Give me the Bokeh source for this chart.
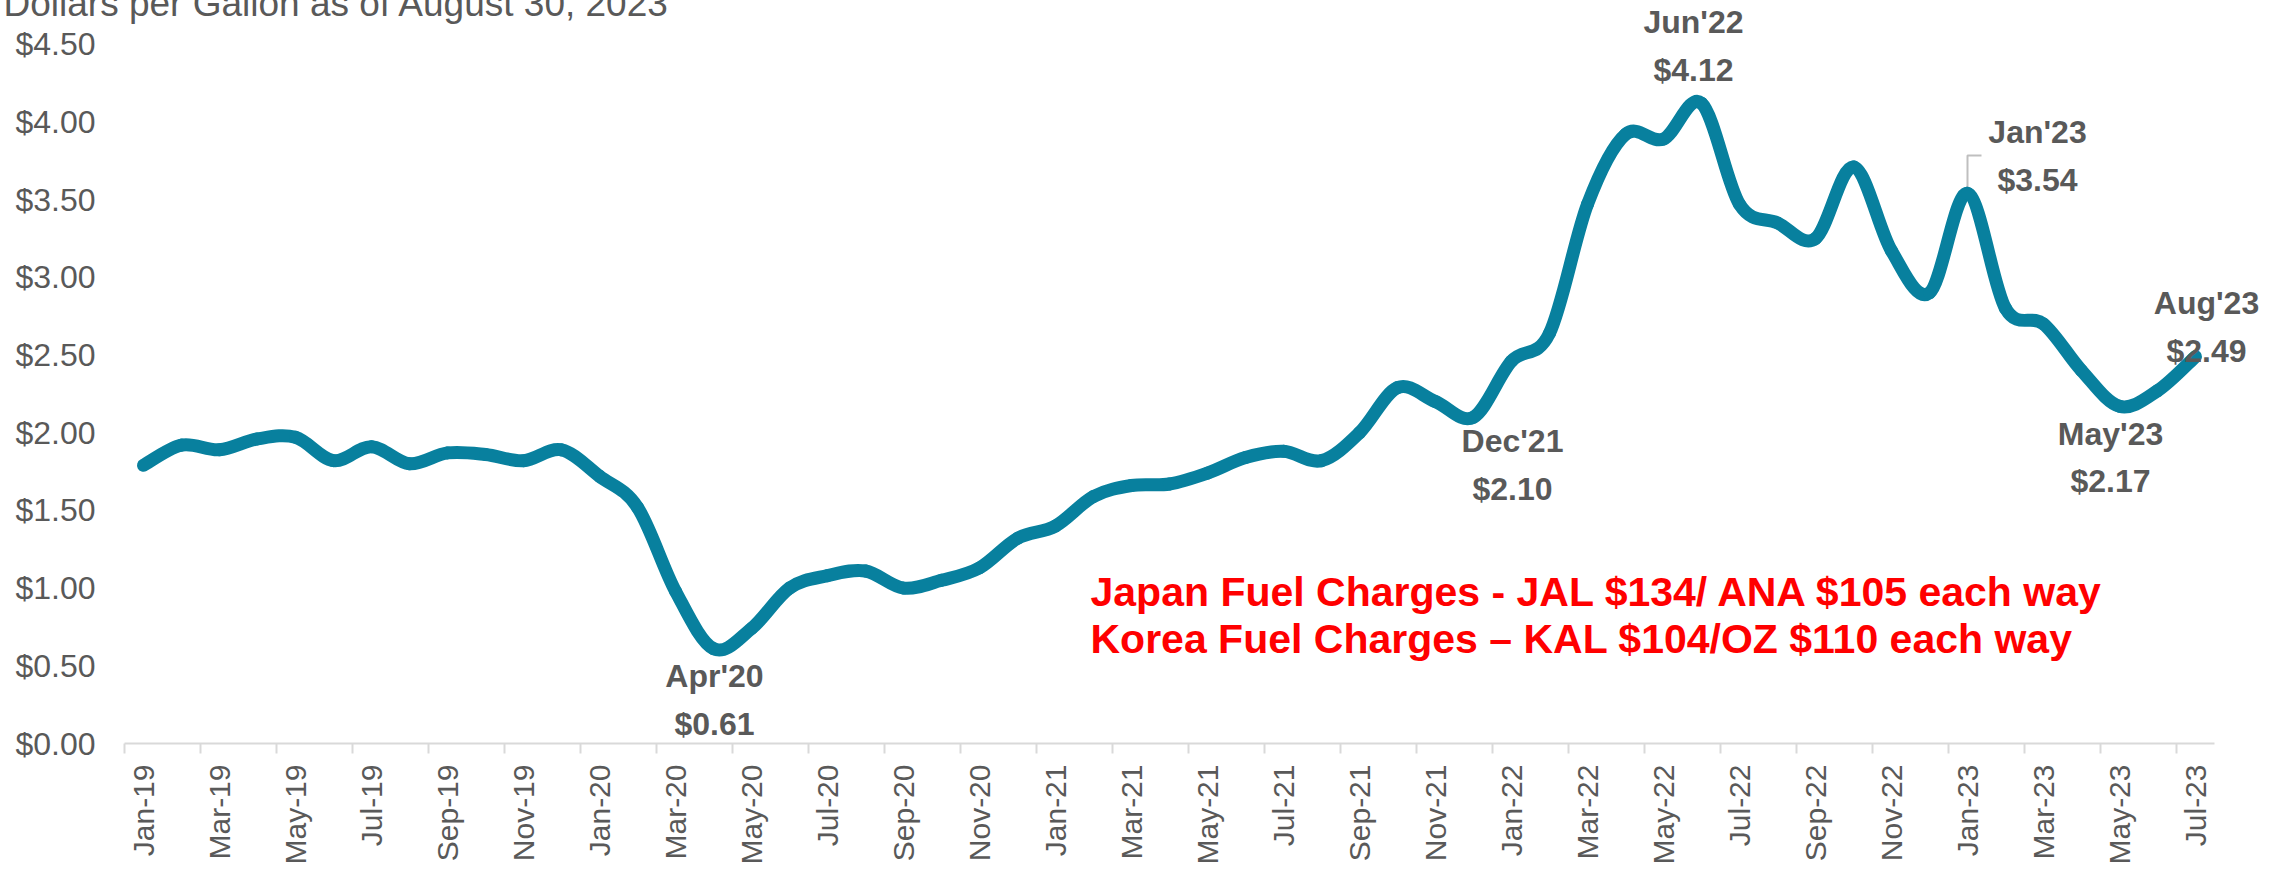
import math
from bokeh.plotting import figure
from bokeh.models import Range1d, FixedTicker, NumeralTickFormatter, Label, Title
from bokeh.embed import file_html
from bokeh.resources import INLINE

# ---------------- data ----------------
months = [
    "Jan-19", "Feb-19", "Mar-19", "Apr-19", "May-19", "Jun-19", "Jul-19", "Aug-19", "Sep-19", "Oct-19", "Nov-19", "Dec-19",
    "Jan-20", "Feb-20", "Mar-20", "Apr-20", "May-20", "Jun-20", "Jul-20", "Aug-20", "Sep-20", "Oct-20", "Nov-20", "Dec-20",
    "Jan-21", "Feb-21", "Mar-21", "Apr-21", "May-21", "Jun-21", "Jul-21", "Aug-21", "Sep-21", "Oct-21", "Nov-21", "Dec-21",
    "Jan-22", "Feb-22", "Mar-22", "Apr-22", "May-22", "Jun-22", "Jul-22", "Aug-22", "Sep-22", "Oct-22", "Nov-22", "Dec-22",
    "Jan-23", "Feb-23", "Mar-23", "Apr-23", "May-23", "Jun-23", "Jul-23",
]
prices = [
    1.79, 1.92, 1.89, 1.96, 1.97, 1.82, 1.91, 1.80, 1.87, 1.86, 1.82, 1.89,
    1.72, 1.52, 0.98, 0.61, 0.74, 1.00, 1.08, 1.11, 1.00, 1.05, 1.13, 1.32,
    1.40, 1.59, 1.66, 1.67, 1.74, 1.84, 1.88, 1.82, 2.00, 2.29, 2.20, 2.10,
    2.46, 2.64, 3.47, 3.92, 3.89, 4.12, 3.47, 3.35, 3.25, 3.71, 3.17, 2.90,
    3.54, 2.80, 2.70, 2.40, 2.17, 2.27, 2.49,
]
tick_labels = ["Jan-19", "Mar-19", "May-19", "Jul-19", "Sep-19", "Nov-19",
               "Jan-20", "Mar-20", "May-20", "Jul-20", "Sep-20", "Nov-20",
               "Jan-21", "Mar-21", "May-21", "Jul-21", "Sep-21", "Nov-21",
               "Jan-22", "Mar-22", "May-22", "Jul-22", "Sep-22", "Nov-22",
               "Jan-23", "Mar-23", "May-23", "Jul-23"]
y_ticks = [0.0, 0.5, 1.0, 1.5, 2.0, 2.5, 3.0, 3.5, 4.0, 4.5]
ann_index = [15, 35, 41, 48, 52, 54]
ann_name = ["Apr'20", "Dec'21", "Jun'22", "Jan'23", "May'23", "Aug'23"]
title_text = "Dollars per Gallon as of August 30, 2023"
note_lines = ["Japan Fuel Charges - JAL $134/ ANA $105 each way",
              "Korea Fuel Charges \u2013 KAL $104/OZ $110 each way"]

# ---------------- layout / style ----------------
W = 2269
FRAME_LEFT, FRAME_TOP, AXIS_Y = 124, 4, 743
n = len(prices)
PXX = 38.0     # px per month
PXY = 155.4    # px per dollar
FW = W - FRAME_LEFT
FH = AXIS_Y - FRAME_TOP
X0 = -0.5
X_AXIS_END = n - 0.5
X1 = X0 + FW / PXX
Y0 = 0.0
Y1 = FH / PXY

GRAY = "#595959"
TEAL = "#08809E"
AXIS = "#D9D9D9"
FONT = "Liberation Sans"

p = figure(frame_width=FW, frame_height=FH, x_range=Range1d(X0, X1), y_range=Range1d(Y0, Y1),
           output_backend="svg", toolbar_location=None, title=None,
           min_border_left=FRAME_LEFT, min_border_right=0,
           min_border_top=FRAME_TOP, min_border_bottom=0)
p.xgrid.visible = False
p.ygrid.visible = False
p.outline_line_color = None
p.background_fill_color = "white"
p.border_fill_color = "white"

# x axis: month labels every 2 months, tick marks between categories
label_x = [months.index(t) for t in tick_labels]
xa = p.xaxis[0]
xa.bounds = (X0, X_AXIS_END)
xa.ticker = FixedTicker(ticks=label_x, minor_ticks=[X0 + 2 * k for k in range((n + 1) // 2)])
xa.major_label_overrides = {i: t for i, t in zip(label_x, tick_labels)}
xa.major_label_orientation = math.pi / 2
xa.axis_line_color = AXIS
xa.axis_line_width = 2
xa.major_tick_line_color = None
xa.major_tick_in = 0
xa.major_tick_out = 0
xa.minor_tick_line_color = AXIS
xa.minor_tick_line_width = 2
xa.minor_tick_in = 0
xa.minor_tick_out = 10
xa.major_label_standoff = 11
xa.major_label_text_font = FONT
xa.major_label_text_font_size = "30px"
xa.major_label_text_color = GRAY

ya = p.yaxis[0]
ya.ticker = FixedTicker(ticks=y_ticks)
ya.formatter = NumeralTickFormatter(format="$0.00")
ya.axis_line_color = None
ya.major_tick_line_color = None
ya.minor_tick_line_color = None
ya.major_tick_in = 0
ya.major_tick_out = 0
ya.major_label_standoff = 29
ya.major_label_text_font = FONT
ya.major_label_text_font_size = "32px"
ya.major_label_text_color = GRAY

# title, partly cut at the top edge as in the original
p.add_layout(Title(text=title_text, align="left", vertical_align="top",
                   offset=-121, standoff=-43, text_font=FONT, text_font_size="37px",
                   text_font_style="normal", text_color=GRAY), "above")

# red notes
note_x = X0 + (1090 - FRAME_LEFT) / PXX
for t, base in zip(note_lines, [591, 638]):
    p.add_layout(Label(x=note_x, y=(AXIS_Y - base) / PXY, text=t,
                       text_font=FONT, text_font_style="bold",
                       text_font_size="41px", text_color="#FF0000",
                       text_align="left", text_baseline="alphabetic"))

# data-point callouts: pixel offsets (dx, dy_name, dy_value) from the point
ann_off = [(1, 27, 75), (39, 24, 72), (-8, -81, -33), (70, -61, -13), (-9, 28, 75), (11, -54, -6)]
for i, name, (dx, d1, d2) in zip(ann_index, ann_name, ann_off):
    v = prices[i]
    for txt, dy in ((name, d1), ("${:.2f}".format(v), d2)):
        p.add_layout(Label(x=i + dx / PXX, y=v - dy / PXY, text=txt,
                           text_font=FONT, text_font_style="bold", text_font_size="32px",
                           text_color=GRAY, text_align="center", text_baseline="alphabetic"))

# leader line for Jan'23
j = ann_index[3]
p.line([j, j, j + 14 / PXX], [prices[j], prices[j] + 38 / PXY, prices[j] + 38 / PXY],
       line_color="#BFBFBF", line_width=2)

# smoothed line (Catmull-Rom style Bezier segments through the monthly points)
xs = list(range(n))
ys = prices
x0s, y0s, x1s, y1s, cx0, cy0, cx1, cy1 = ([] for _ in range(8))
for k in range(n - 1):
    a = k - 1 if k > 0 else k
    d = k + 2 if k + 2 < n else k + 1
    x0s.append(xs[k]); y0s.append(ys[k])
    x1s.append(xs[k + 1]); y1s.append(ys[k + 1])
    cx0.append(xs[k] + (xs[k + 1] - xs[a]) / 6.0)
    cy0.append(ys[k] + (ys[k + 1] - ys[a]) / 6.0)
    cx1.append(xs[k + 1] - (xs[d] - xs[k]) / 6.0)
    cy1.append(ys[k + 1] - (ys[d] - ys[k]) / 6.0)
p.bezier(x0=x0s, y0=y0s, x1=x1s, y1=y1s, cx0=cx0, cy0=cy0, cx1=cx1, cy1=cy1,
         line_color=TEAL, line_width=13, line_cap="round")

open("out.html", "w").write(file_html(p, INLINE))
